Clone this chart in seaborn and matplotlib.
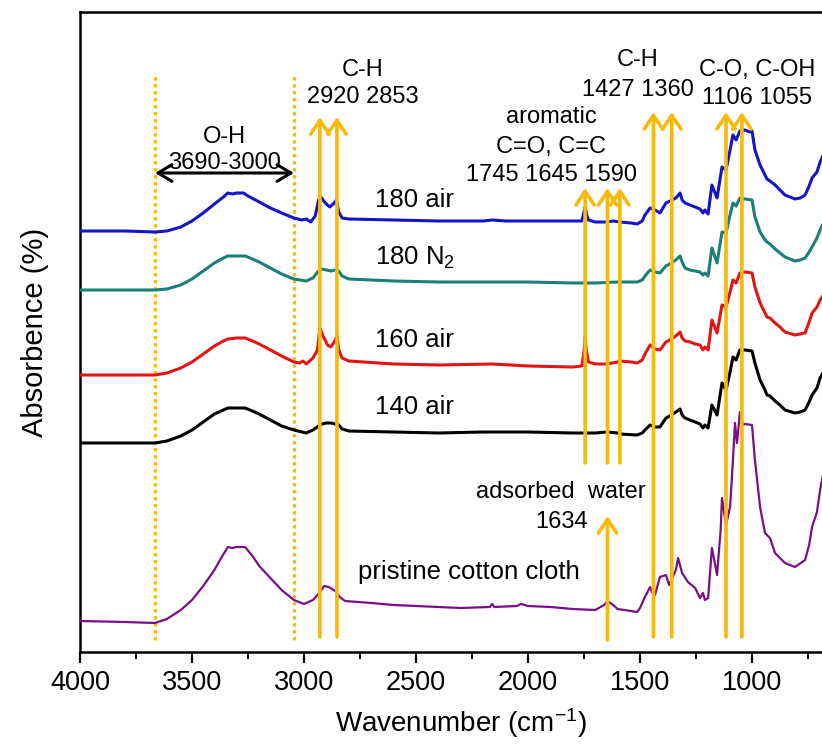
import pandas as pd
import seaborn as sns
import matplotlib.pyplot as plt
from matplotlib.ticker import MultipleLocator

# wavenumber (cm-1) and absorbance (a.u., stacked)
blue_wn = [4000, 3800, 3665, 3612, 3550, 3500, 3450, 3400, 3360, 3340, 3320, 3300, 3270, 3250, 3200, 3150, 3100,
           3045, 3010, 2990, 2970, 2950, 2935, 2925, 2905, 2885, 2865, 2855, 2845, 2830, 2800, 2600, 2400, 2200,
           2160, 2100, 1800, 1760, 1750, 1745, 1738, 1730, 1700, 1650, 1620, 1589, 1540, 1513, 1490, 1478, 1455,
           1433, 1411, 1384, 1375, 1340, 1321, 1312, 1299, 1277, 1254, 1232, 1219, 1210, 1196, 1179, 1156, 1134,
           1116, 1098, 1085, 1071, 1054, 1031, 1010, 1000, 987, 964, 942, 933, 920, 897, 875, 853, 808, 785, 763,
           745, 732, 710, 696, 652]
blue_ab = [421, 421, 420, 421, 425, 431, 439, 448, 455, 459, 458, 459, 459, 456, 450, 444, 439,
           434, 432, 433, 430, 436, 452, 455, 449, 445, 449, 452, 440, 434, 433, 432, 431, 431,
           432, 431, 431, 431, 440, 445, 437, 432, 430, 430, 431, 430, 429, 428, 431, 437, 444,
           442, 439, 449, 450, 454, 459, 452, 449, 447, 445, 443, 439, 442, 438, 467, 454, 485,
           482, 502, 517, 512, 521, 522, 520, 521, 502, 487, 477, 473, 471, 467, 462, 457, 453, 454, 457,
           466, 474, 480, 490, 512]

teal_wn = [4000, 3800, 3665, 3612, 3550, 3500, 3450, 3400, 3360, 3340, 3300, 3263, 3230, 3200, 3150, 3100, 3045,
           2990, 2960, 2935, 2920, 2900, 2880, 2860, 2845, 2830, 2800, 2600, 2400, 2000, 1800, 1700, 1600, 1513,
           1490, 1478, 1455, 1433, 1411, 1384, 1375, 1340, 1321, 1312, 1299, 1277, 1254, 1232, 1219, 1210, 1196,
           1179, 1156, 1134, 1116, 1098, 1085, 1071, 1054, 1031, 1000, 987, 964, 942, 933, 920, 897, 875, 853,
           808, 785, 763, 745, 732, 710, 696, 652]
teal_ab = [362, 362, 362, 363, 367, 373, 381, 389, 394, 396, 396, 396, 393, 390, 384, 378, 373,
           371, 374, 381, 383, 382, 381, 382, 381, 376, 373, 371, 370, 370, 369, 369, 370, 370,
           372, 376, 382, 380, 379, 386, 387, 392, 396, 390, 384, 382, 381, 380, 377, 379, 376,
           404, 389, 420, 419, 437, 449, 446, 454, 453, 452, 435, 420, 412, 410, 408, 403, 399, 395,
           391, 392, 394, 400, 405, 414, 422, 442]

red_wn = [4000, 3800, 3665, 3612, 3550, 3500, 3450, 3400, 3360, 3340, 3300, 3263, 3230, 3200, 3150, 3100, 3045,
          3020, 3005, 2990, 2960, 2940, 2929, 2915, 2895, 2880, 2860, 2853, 2845, 2830, 2800, 2600, 2400, 2160,
          2000, 1800, 1760, 1750, 1745, 1740, 1730, 1700, 1650, 1600, 1589, 1540, 1513, 1490, 1478, 1455, 1433,
          1411, 1384, 1375, 1340, 1321, 1312, 1299, 1277, 1254, 1232, 1219, 1210, 1196, 1179, 1156, 1134, 1116,
          1098, 1085, 1071, 1054, 1031, 1000, 987, 964, 942, 933, 920, 897, 875, 853, 808, 785, 763, 745, 732,
          710, 696, 652]
red_ab = [277, 277, 277, 279, 284, 290, 298, 306, 311, 313, 314, 314, 311, 308, 302, 296, 290,
          289, 291, 288, 294, 302, 324, 316, 307, 305, 312, 317, 302, 294, 291, 288, 287, 288,
          286, 285, 286, 300, 315, 302, 290, 288, 288, 290, 291, 290, 289, 292, 298, 307, 303,
          302, 310, 311, 316, 320, 314, 311, 310, 308, 307, 302, 305, 302, 332, 319, 347, 345,
          360, 372, 369, 379, 380, 379, 365, 349, 339, 335, 334, 329, 325, 320, 317, 318, 319, 330, 339,
          345, 352, 367]

black_wn = [4000, 3800, 3665, 3612, 3550, 3500, 3450, 3400, 3360, 3340, 3300, 3263, 3230, 3200, 3150, 3100, 3045,
            2990, 2960, 2935, 2920, 2900, 2880, 2860, 2845, 2830, 2800, 2600, 2400, 2200, 2000, 1800, 1700, 1645,
            1600, 1589, 1513, 1490, 1478, 1455, 1433, 1411, 1384, 1375, 1340, 1321, 1312, 1299, 1277, 1254, 1232,
            1219, 1210, 1196, 1179, 1156, 1134, 1116, 1098, 1085, 1071, 1054, 1031, 1000, 987, 964, 942, 933, 920,
            897, 875, 853, 808, 785, 763, 745, 732, 710, 696, 652]
black_ab = [209, 209, 209, 211, 216, 222, 230, 238, 242, 244, 244, 244, 241, 238, 232, 226, 222,
            219, 222, 226, 228, 229, 229, 228, 227, 223, 221, 220, 219, 220, 220, 219, 219, 220,
            219, 218, 217, 219, 222, 227, 225, 225, 234, 235, 240, 243, 237, 234, 232, 230, 228,
            224, 227, 224, 247, 237, 269, 262, 280, 295, 292, 302, 302, 301, 289, 272, 262, 257, 256,
            251, 247, 242, 239, 240, 242, 250, 257, 264, 274, 292]

purple_wn = [4000, 3800, 3665, 3612, 3550, 3500, 3450, 3400, 3370, 3340, 3320, 3300, 3263, 3230, 3200, 3150, 3100,
             3045, 3000, 2990, 2960, 2935, 2910, 2890, 2860, 2840, 2817, 2700, 2600, 2400, 2300, 2170, 2160, 2150,
             2050, 2030, 2000, 1900, 1800, 1700, 1660, 1645, 1620, 1600, 1540, 1513, 1500, 1478, 1455, 1445, 1433,
             1411, 1384, 1370, 1340, 1330, 1312, 1286, 1254, 1232, 1219, 1210, 1196, 1179, 1156, 1140, 1134, 1116,
             1098, 1085, 1076, 1067, 1054, 1040, 1031, 1000, 987, 964, 942, 920, 897, 853, 808, 763, 745, 732, 710,
             696, 652]
purple_ab = [31, 30, 29, 33, 42, 52, 66, 82, 94, 105, 104, 105, 105, 96, 86, 74, 62,
             52, 48, 49, 52, 58, 66, 65, 61, 55, 51, 49, 47, 45, 44, 45, 48, 45,
             46, 48, 46, 45, 43, 42, 47, 51, 47, 43, 41, 40, 44, 55, 65, 59, 57,
             75, 77, 67, 82, 94, 79, 70, 64, 54, 59, 52, 54, 104, 77, 122, 154, 127,
             145, 192, 229, 209, 240, 227, 228, 227, 192, 145, 119, 114, 99, 89, 85, 92, 107, 125, 140,
             162, 212]

series_names = ["180 air", "180 N2", "160 air", "140 air", "pristine cotton cloth"]
series_colors = ["#1414c8", "#1a7f78", "#e41414", "#000000", "#7a0f88"]

# band assignments
ch_bands = [2929, 2853]
aromatic_bands = [1745, 1645, 1590]
ch2_bands = [1440, 1358]
co_bands = [1116, 1045]
water_band = 1645
oh_range = [3665, 3045]

ORANGE = "#f6b90c"

sns.set_theme(style="ticks")
plt.rcParams["font.family"] = ["Liberation Sans", "DejaVu Sans"]
plt.rcParams["mathtext.fontset"] = "custom"
plt.rcParams["mathtext.rm"] = "Liberation Sans"
plt.rcParams["mathtext.default"] = "regular"
plt.rcParams["text.color"] = "black"
plt.rcParams["axes.labelcolor"] = "black"
plt.rcParams["xtick.color"] = "black"
plt.rcParams["ytick.color"] = "black"

fig = plt.figure(figsize=(8.22, 7.52), dpi=100)
ax = fig.add_axes([80 / 822, 100 / 752, 761.6 / 822, 640 / 752])

all_wn = [blue_wn, teal_wn, red_wn, black_wn, purple_wn]
all_ab = [blue_ab, teal_ab, red_ab, black_ab, purple_ab]
for name, color, wn, ab in zip(series_names, series_colors, all_wn, all_ab):
    df = pd.DataFrame({"wavenumber": wn, "absorbance": ab})
    lw = 1.6 if name.startswith("pristine") else 2.2
    sns.lineplot(data=df, x="wavenumber", y="absorbance", color=color, lw=lw,
                 estimator=None, sort=False, ax=ax, zorder=3)

# band markers
def up_arrow(x, y0, y1):
    ax.annotate("", xy=(x, y1), xytext=(x, y0), zorder=4,
                arrowprops=dict(arrowstyle="->,head_length=0.45,head_width=0.3", color=ORANGE,
                                lw=2.6, shrinkA=0, shrinkB=0, mutation_scale=22))

for wn in ch_bands:
    up_arrow(wn, 15, 535)
for wn in ch2_bands + co_bands:
    up_arrow(wn, 15, 540)
for wn in aromatic_bands:
    up_arrow(wn, 189, 464)
up_arrow(water_band, 12, 136)

for wn in oh_range:
    ax.plot([wn, wn], [12, 577], color=ORANGE, lw=2.4, ls=(0, (1, 1.1)), zorder=2)
ax.annotate("", xy=(oh_range[0], 479), xytext=(oh_range[1], 479),
            arrowprops=dict(arrowstyle="<->,head_length=0.5,head_width=0.3", color="black",
                            lw=2.2, shrinkA=0, shrinkB=0, mutation_scale=20))

# annotations
afs = 17
ax.text(3353, 515, "O-H", fontsize=afs, ha="center", va="center")
ax.text(3353, 489, "3690-3000", fontsize=afs, ha="center", va="center")
ax.text(2737, 582, "C-H", fontsize=afs, ha="center", va="center")
ax.text(2737, 555, "2920 2853", fontsize=afs, ha="center", va="center")
ax.text(1897, 535, "aromatic", fontsize=afs, ha="center", va="center")
ax.text(1897, 505, "C=O, C=C", fontsize=afs, ha="center", va="center")
ax.text(1897, 477, "1745 1645 1590", fontsize=afs, ha="center", va="center")
ax.text(1511, 592, "C-H", fontsize=afs, ha="center", va="center")
ax.text(1511, 562, "1427 1360", fontsize=afs, ha="center", va="center")
ax.text(978, 582, "C-O, C-OH", fontsize=afs, ha="center", va="center")
ax.text(978, 554, "1106 1055", fontsize=afs, ha="center", va="center")
ax.text(1853, 160, "adsorbed  water", fontsize=afs, ha="center", va="center")
ax.text(1848, 130, "1634", fontsize=afs, ha="center", va="center")

lfs = 18.5
ax.text(2683, 452, "180 air", fontsize=lfs, ha="left", va="center")
ax.text(2683, 394, "180 N$_2$", fontsize=lfs, ha="left", va="center")
ax.text(2683, 312, "160 air", fontsize=lfs, ha="left", va="center")
ax.text(2683, 245, "140 air", fontsize=lfs, ha="left", va="center")
ax.text(2759, 80, "pristine cotton cloth", fontsize=lfs, ha="left", va="center")

ax.set_xlim(4000, 600)
ax.set_ylim(0, 640)
ax.xaxis.set_major_locator(MultipleLocator(500))
ax.xaxis.set_minor_locator(MultipleLocator(250))
ax.set_yticks([])
ax.tick_params(axis="x", which="major", length=8, width=1.6, labelsize=19.5, pad=5, direction="out",
               bottom=True, top=False)
ax.tick_params(axis="x", which="minor", length=5, width=1.4, bottom=True, top=False)
for side in ["left", "bottom", "top"]:
    ax.spines[side].set_linewidth(1.8)
    ax.spines[side].set_color("black")
ax.spines["right"].set_visible(False)

ax.set_xlabel("Wavenumber (cm$^{-1}$)", fontsize=20, labelpad=7)
ax.set_ylabel("Absorbence (%)", fontsize=21, labelpad=22)

fig.savefig("out.png", dpi=100)
